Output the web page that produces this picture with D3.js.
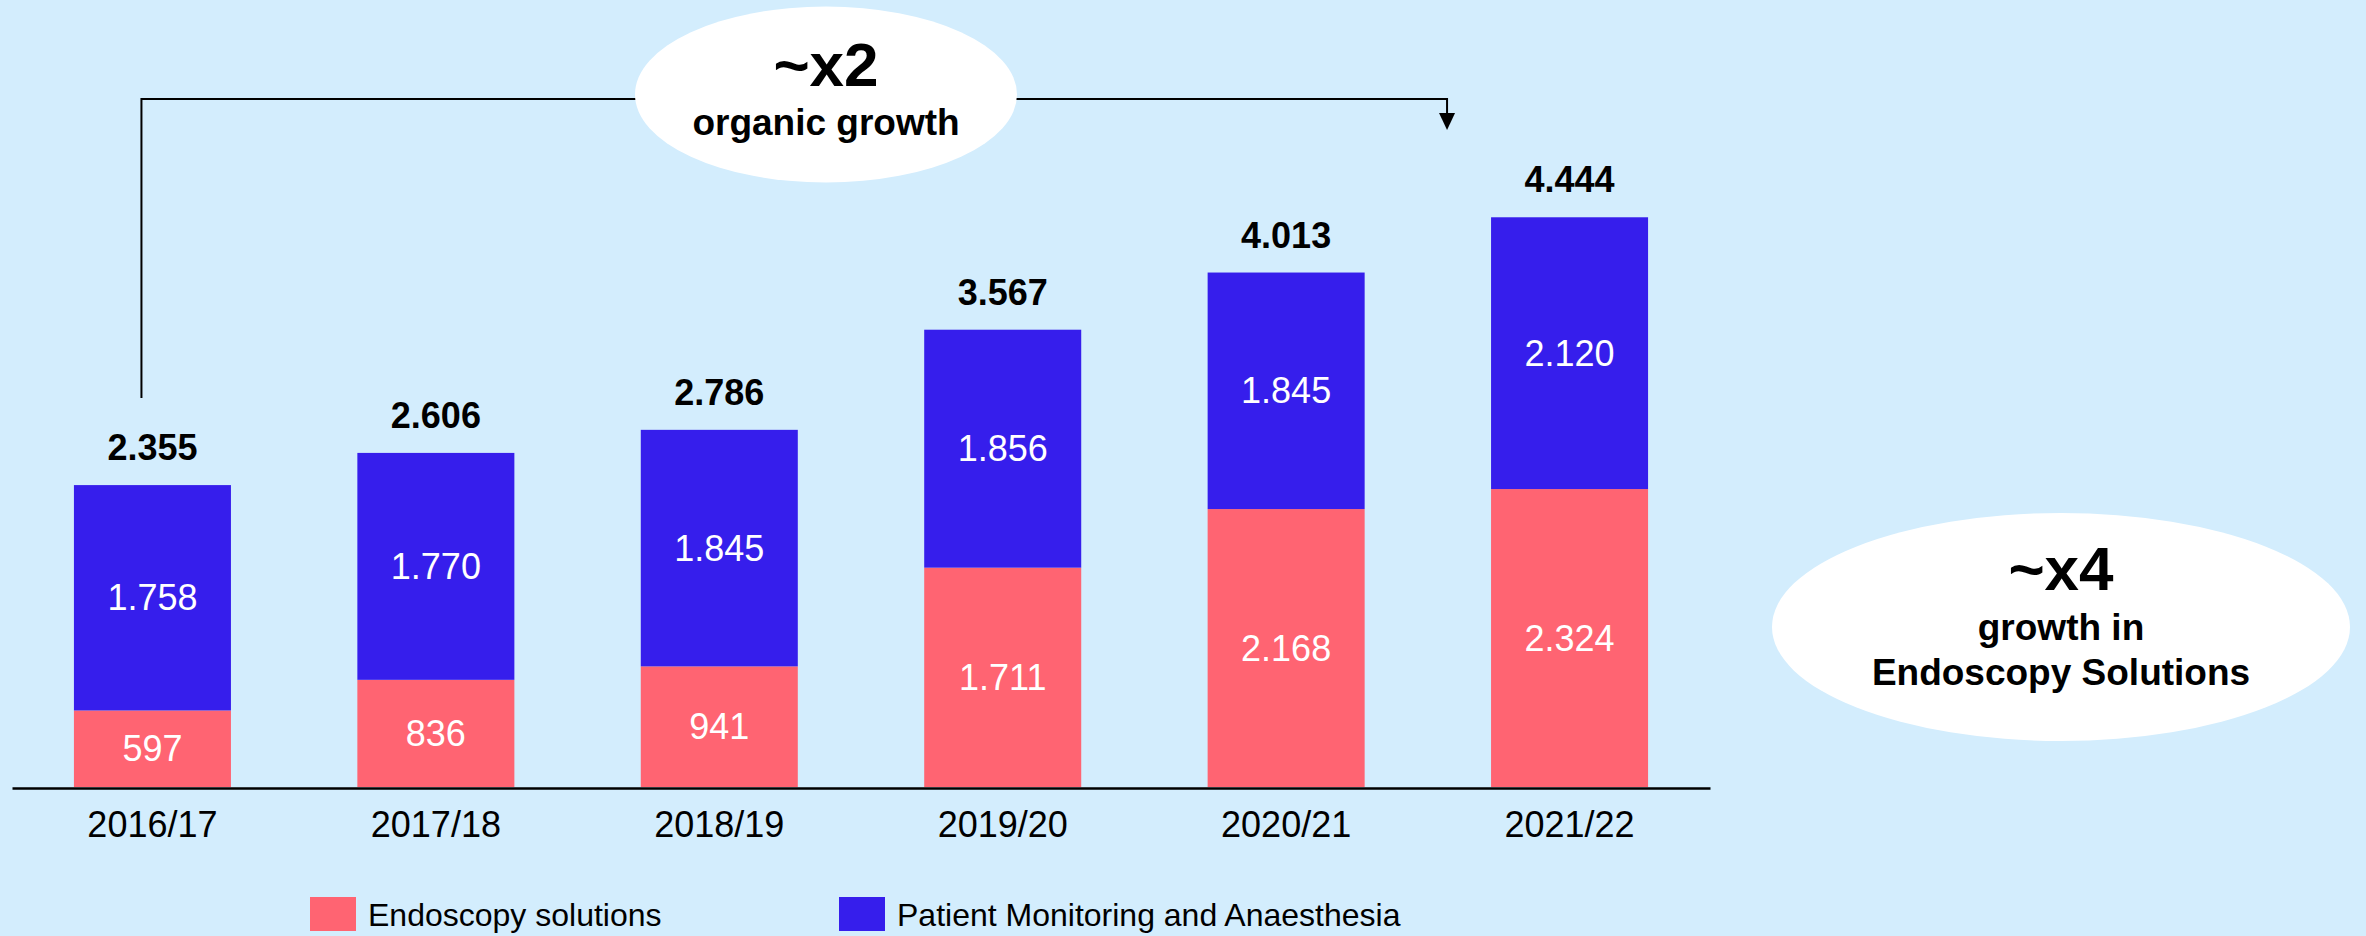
<!DOCTYPE html>
<html>
<head>
<meta charset="utf-8">
<script src="https://cdn.jsdelivr.net/npm/d3@7"></script>
<style>
  html, body { margin: 0; padding: 0; background: #D3EDFD; }
  svg { display: block; font-family: "Liberation Sans", Arial, sans-serif; }
</style>
</head>
<body>
<svg id="chart" width="2366" height="936"></svg>
<script>
// ---- data ----
const categories = ["2016/17", "2017/18", "2018/19", "2019/20", "2020/21", "2021/22"];
const endoscopy = [597, 836, 941, 1711, 2168, 2324];
const patientMonitoring = [1758, 1770, 1845, 1856, 1845, 2120];
const totals = [2355, 2606, 2786, 3567, 4013, 4444];
const seriesNames = ["Endoscopy solutions", "Patient Monitoring and Anaesthesia"];
const seriesColors = ["#FF6472", "#361EEC"];
const fmt = v => d3.format(",")(v).replace(/,/g, ".");

const svg = d3.select("#chart");
const W = 2366, H = 936;
svg.append("rect").attr("width", W).attr("height", H).attr("fill", "#D3EDFD");

const x = d3.scaleBand().domain(categories).range([12, 1710])
  .paddingInner(0.446).paddingOuter(0.2185);
const y = d3.scaleLinear().domain([0, 5000]).range([787, 146]);
const bw = x.bandwidth();

const rows = categories.map((c, i) => ({ cat: c, endo: endoscopy[i], pm: patientMonitoring[i], total: totals[i] }));
const stack = d3.stack().keys(["endo", "pm"])(rows);

const g = svg.append("g");
stack.forEach((layer, li) => {
  g.selectAll(null).data(layer).enter().append("rect")
    .attr("x", d => x(d.data.cat))
    .attr("y", d => y(d[1]))
    .attr("width", bw)
    .attr("height", d => y(d[0]) - y(d[1]))
    .attr("fill", seriesColors[li]);
  g.selectAll(null).data(layer).enter().append("text")
    .attr("x", d => x(d.data.cat) + bw / 2)
    .attr("y", d => (y(d[0]) + y(d[1])) / 2)
    .attr("dy", "0.35em")
    .attr("text-anchor", "middle")
    .attr("font-size", 36)
    .attr("fill", "#FFFFFF")
    .text(d => fmt(d[1] - d[0]));
});

// totals
g.selectAll(null).data(rows).enter().append("text")
  .attr("x", d => x(d.cat) + bw / 2)
  .attr("y", d => y(d.total) - 25)
  .attr("text-anchor", "middle")
  .attr("font-size", 36)
  .attr("font-weight", "bold")
  .attr("fill", "#000")
  .text(d => fmt(d.total));

// axis baseline + category labels
const axis = svg.append("g").attr("transform", `translate(0,${y(0) + 1})`)
  .call(d3.axisBottom(x).tickSize(0).tickPadding(49));
axis.select(".domain").attr("stroke", "#000").attr("stroke-width", 2.7);
axis.selectAll(".tick text").attr("font-size", 36).attr("fill", "#000")
  .attr("font-family", "'Liberation Sans', Arial, sans-serif").attr("dy", 0);

// legend
const legendX = [310, 839];
const leg = svg.append("g");
seriesNames.forEach((n, i) => {
  leg.append("rect").attr("x", legendX[i]).attr("y", 897).attr("width", 46).attr("height", 34)
    .attr("fill", seriesColors[i]);
  leg.append("text").attr("x", legendX[i] + 58).attr("y", 926)
    .attr("font-size", 32).attr("fill", "#000").text(n);
});

// bracket arrow "~x2"
const lx = x(categories[0]) + bw * 0.43;
const rx = x(categories[5]) - 44;
const topY = 99;
const ann = svg.append("g");
ann.append("path")
  .attr("d", `M${lx},398 V${topY} H${rx} V114`)
  .attr("fill", "none").attr("stroke", "#000").attr("stroke-width", 2);
ann.append("path")
  .attr("d", `M${rx - 8},113 L${rx + 8},113 L${rx},130 Z`)
  .attr("fill", "#000");
ann.append("ellipse").attr("cx", 826).attr("cy", 94.5).attr("rx", 191).attr("ry", 88).attr("fill", "#FFFFFF");
ann.append("text").attr("x", 826).attr("y", 86).attr("text-anchor", "middle")
  .attr("font-size", 62).attr("font-weight", "bold").text("~x2");
ann.append("text").attr("x", 826).attr("y", 135).attr("text-anchor", "middle")
  .attr("font-size", 37).attr("font-weight", "bold").text("organic growth");

// "~x4" ellipse
ann.append("ellipse").attr("cx", 2061).attr("cy", 627).attr("rx", 289).attr("ry", 114).attr("fill", "#FFFFFF");
ann.append("text").attr("x", 2061).attr("y", 590).attr("text-anchor", "middle")
  .attr("font-size", 62).attr("font-weight", "bold").text("~x4");
ann.append("text").attr("x", 2061).attr("y", 640).attr("text-anchor", "middle")
  .attr("font-size", 37).attr("font-weight", "bold").text("growth in");
ann.append("text").attr("x", 2061).attr("y", 685).attr("text-anchor", "middle")
  .attr("font-size", 37).attr("font-weight", "bold").text("Endoscopy Solutions");
</script>
</body>
</html>
